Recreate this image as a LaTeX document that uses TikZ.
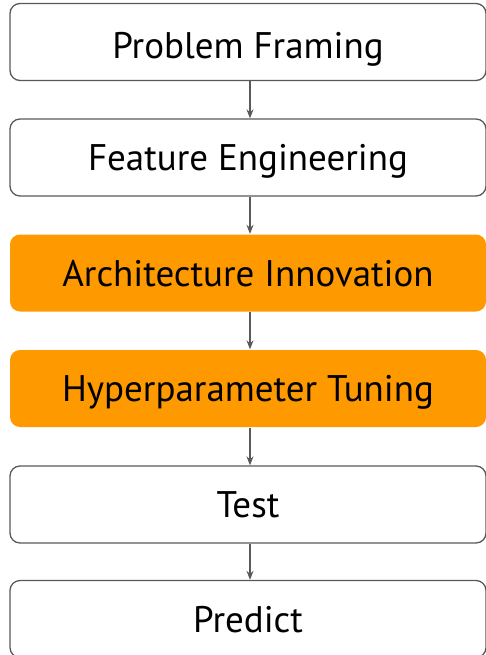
\documentclass[tikz,border=0pt]{standalone}
\usepackage{fontspec}
\setmainfont{PT Sans}
\usetikzlibrary{arrows.meta}
\definecolor{edgegray}{HTML}{595959}
\definecolor{hilite}{HTML}{FF9900}
\tikzset{
  stage/.style={draw=edgegray, line width=1.3pt, rounded corners=10pt,
    minimum width=476pt, minimum height=77pt, inner sep=0pt,
    text height=26pt, text depth=0pt,
    font=\fontsize{37}{44}\selectfont, text=black},
  hot/.style={stage, draw=none, fill=hilite},
  flow/.style={draw=edgegray, line width=1.3pt, -{Stealth[length=9pt,width=7pt]}}
}
\begin{document}
\begin{tikzpicture}[x=1pt,y=-1pt]
\useasboundingbox (0,0) rectangle (485,655);
\node[stage] (s1) at (248,42) {\raisebox{-4pt}{Problem Framing}};
\node[stage] (s2) at (248,157.5) {Feature Engineering};
\node[hot]   (s3) at (248,273) {Architecture Innovation};
\node[hot]   (s4) at (248,388.5) {Hyperparameter Tuning};
\node[stage] (s5) at (248,504.5) {Test};
\node[stage] (s6) at (248,619) {Predict};
\foreach \a/\b in {s1/s2,s2/s3,s3/s4,s4/s5,s5/s6}
  \draw[flow] ([xshift=2pt]\a.south) -- ([xshift=2pt]\b.north);
\end{tikzpicture}
\end{document}
